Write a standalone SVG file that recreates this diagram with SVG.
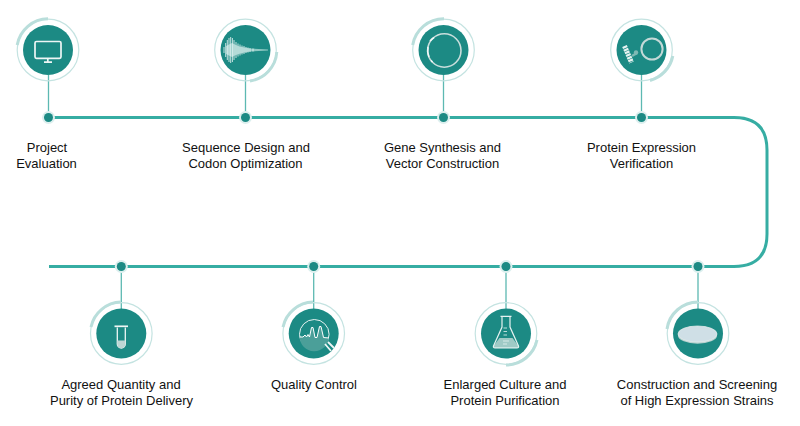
<svg xmlns="http://www.w3.org/2000/svg" width="800" height="426" viewBox="0 0 800 426">
<style>
.ring{fill:none;stroke:#c4e3e1;stroke-width:1.2}
.arc{fill:none;stroke:#b9dedb;stroke-width:3}
.disc{fill:#1c8a84}
.stem{stroke:#5db9b2;stroke-width:1.3;fill:none}
.halo{fill:#dcefee}
.dot{fill:#1c8a84}
.main{fill:none;stroke:#36ada3;stroke-width:3}
text{font-family:"Liberation Sans",Arial,sans-serif;font-size:13px;fill:#111111;text-anchor:middle}
.w{fill:none;stroke:#eef6f5;stroke-width:1.7}
</style>
<rect width="800" height="426" fill="#ffffff"/>
<g id="connectors">
<path class="main" d="M48 117.500H734Q767 117.500 767 150V234Q767 266.500 734 266.500H49"/>
<path class="stem" d="M48.500 75V117M245.500 75V117M443.500 75V117M641.500 75V117M121.300 267V309M313.700 267V309M506 267V309M698 267V309"/>
<g class="halo"><circle cx="48.500" cy="117.500" r="6.500"/><circle cx="245.500" cy="117.500" r="6.500"/><circle cx="443.500" cy="117.500" r="6.500"/><circle cx="641.500" cy="117.500" r="6.500"/><circle cx="121.300" cy="266.500" r="6.500"/><circle cx="313.700" cy="266.500" r="6.500"/><circle cx="506" cy="266.500" r="6.500"/><circle cx="698" cy="266.500" r="6.500"/></g>
<g class="dot"><circle cx="48.500" cy="117.500" r="4.500"/><circle cx="245.500" cy="117.500" r="4.500"/><circle cx="443.500" cy="117.500" r="4.500"/><circle cx="641.500" cy="117.500" r="4.500"/><circle cx="121.300" cy="266.500" r="4.500"/><circle cx="313.700" cy="266.500" r="4.500"/><circle cx="506" cy="266.500" r="4.500"/><circle cx="698" cy="266.500" r="4.500"/></g>
</g>
<g id="node1">
<circle class="ring" cx="48" cy="50" r="30.800"/>
<path class="arc" d="M17.200 45A31.500 31.500 0 0 1 48 18.800"/>
<circle class="disc" cx="48" cy="50" r="25"/>
<rect class="w" x="35" y="41.500" width="26" height="16.800" rx="1.500"/>
<path class="w" d="M47.800 58.500V61.500M44 62.200H52"/>
<text x="47" y="152">Project</text><text x="46.500" y="168">Evaluation</text>
</g>
<g id="node2">
<circle class="ring" cx="245.500" cy="50" r="30.800"/>
<path class="arc" d="M276.800 52A31.500 31.500 0 0 1 250 81"/>
<circle class="disc" cx="245.500" cy="50" r="25"/>
<path d="M226 46L232 43Q238 47 250 48.500L268 49.500V50.500L250 51.500Q238 53 232 57L226 54Z" fill="#8fc8c3"/>
<path d="M224 47V53M225.700 43V57M227.300 40V60M229 38V62M230.700 37V63M232.400 38V62M234 40V60M236 42V58M238 43.500V56.500M240 44.500V55.500M242 45.500V54.500M244 46V54M246 47V53M248 47.500V52.500M250 48V52M253 48.500V51.500" fill="none" stroke="#f0f8f7" stroke-width="0.8"/>
<text x="246" y="152">Sequence Design and</text><text x="245.500" y="168">Codon Optimization</text>
</g>
<g id="node3">
<circle class="ring" cx="443.500" cy="50" r="30.800"/>
<path class="arc" d="M412.700 45A31.500 31.500 0 0 1 444 18.800"/>
<circle class="disc" cx="443.500" cy="50" r="25"/>
<circle cx="444.300" cy="50.500" r="16.700" fill="none" stroke="#c9dedc" stroke-width="1.600"/>
<path d="M434 37.500A16.500 16.500 0 0 0 430 41M428 47A16.500 16.500 0 0 0 429 57M431 60.500L432.500 62" fill="none" stroke="#f2f8f8" stroke-width="1.600"/>
<text x="442.500" y="152">Gene Synthesis and</text><text x="442.500" y="168">Vector Construction</text>
</g>
<g id="node4">
<circle class="ring" cx="641.500" cy="50" r="30.800"/>
<path class="arc" d="M672.800 56A31.500 31.500 0 0 1 650 80.500"/>
<circle class="disc" cx="641.500" cy="50" r="25"/>
<circle cx="652" cy="49" r="10.600" fill="none" stroke="#c3d9d7" stroke-width="2"/>
<path d="M624.500 46L631.500 62.500" fill="none" stroke="#e6f2f1" stroke-width="5" stroke-dasharray="2.200 0.700"/>
<path d="M632 56L637 53" fill="none" stroke="#7fb9b4" stroke-width="2.500"/>
<circle cx="636" cy="52.500" r="2.200" fill="#7fb9b4"/>
<text x="641.500" y="152">Protein Expression</text><text x="641.500" y="168">Verification</text>
</g>
<g id="node5">
<circle class="ring" cx="121.300" cy="333.500" r="30.800"/>
<path class="arc" d="M91 327A31.500 31.500 0 0 1 121 302"/>
<circle class="disc" cx="121.300" cy="333.500" r="25"/>
<path class="w" d="M114.500 326.300H128"/>
<path d="M117.300 327.500V344A4 4 0 0 0 125.300 344V327.500" fill="none" stroke="#eef6f5" stroke-width="1.300"/>
<path d="M117.300 340.500H125.300V344A4 4 0 0 1 117.300 344Z" fill="#bcd6d4"/>
<text x="121" y="389">Agreed Quantity and</text><text x="121.500" y="405">Purity of Protein Delivery</text>
</g>
<g id="node6">
<circle class="ring" cx="313.700" cy="333.500" r="30.800"/>
<path class="arc" d="M283 327A31.500 31.500 0 0 1 313 302"/>
<circle class="disc" cx="313.700" cy="333.500" r="25"/>
<circle cx="314.300" cy="334.300" r="14.800" fill="#1c8a84" stroke="#e6f2f1" stroke-width="1"/>
<path d="M299.500 337H303L305 335L306.500 337L308 334.500L309.500 337L311.500 327.500L313 327.500L315 337.500H317L319.500 326.500L321 326.500L323.500 337.500L329 338A14.800 14.800 0 0 1 299.500 337Z" fill="#4b9f99"/>
<path d="M299.500 337H303L305 335L306.500 337L308 334.500L309.500 337L311.500 327.500L313 327.500L315 337.500H317L319.500 326.500L321 326.500L323.500 337.500L329 338" fill="none" stroke="#ffffff" stroke-width="1"/>
<path d="M325 344L331 351M328 342L334 348" fill="none" stroke="#eef6f5" stroke-width="1.800"/>
<text x="314" y="389">Quality Control</text>
</g>
<g id="node7">
<circle class="ring" cx="506" cy="333.500" r="30.800"/>
<path class="arc" d="M537 340A31.500 31.500 0 0 1 506 365"/>
<circle class="disc" cx="506" cy="333.500" r="25"/>
<path d="M499.500 338H512.500L518.500 346Q519 347.800 517 347.800H495Q493 347.800 493.500 346Z" fill="#9fcac6"/>
<path d="M502 317V327L493.500 346Q493 347.800 495 347.800H517Q519 347.800 518.500 346L510 327V317M500.500 316.300H511.500" fill="none" stroke="#e6f2f1" stroke-width="1.200"/>
<path d="M503.500 328H507M503.500 331.500H507M503.500 335H507M503 341H509M503 344H507" stroke="#e6f2f1" stroke-width="0.800" fill="none"/>
<text x="505" y="389">Enlarged Culture and</text><text x="505" y="405">Protein Purification</text>
</g>
<g id="node8">
<circle class="ring" cx="698" cy="333.500" r="30.800"/>
<path class="arc" d="M667 329A31.500 31.500 0 0 1 698 302"/>
<circle class="disc" cx="698" cy="333.500" r="25"/>
<ellipse cx="697.500" cy="335.500" rx="19.500" ry="8.300" fill="#b9d2d0"/>
<ellipse cx="697.500" cy="334" rx="19.500" ry="8" fill="#cfdfe6" stroke="#dfeaea" stroke-width="0.800"/>
<text x="697" y="389">Construction and Screening</text><text x="697" y="405">of High Expression Strains</text>
</g>
</svg>
